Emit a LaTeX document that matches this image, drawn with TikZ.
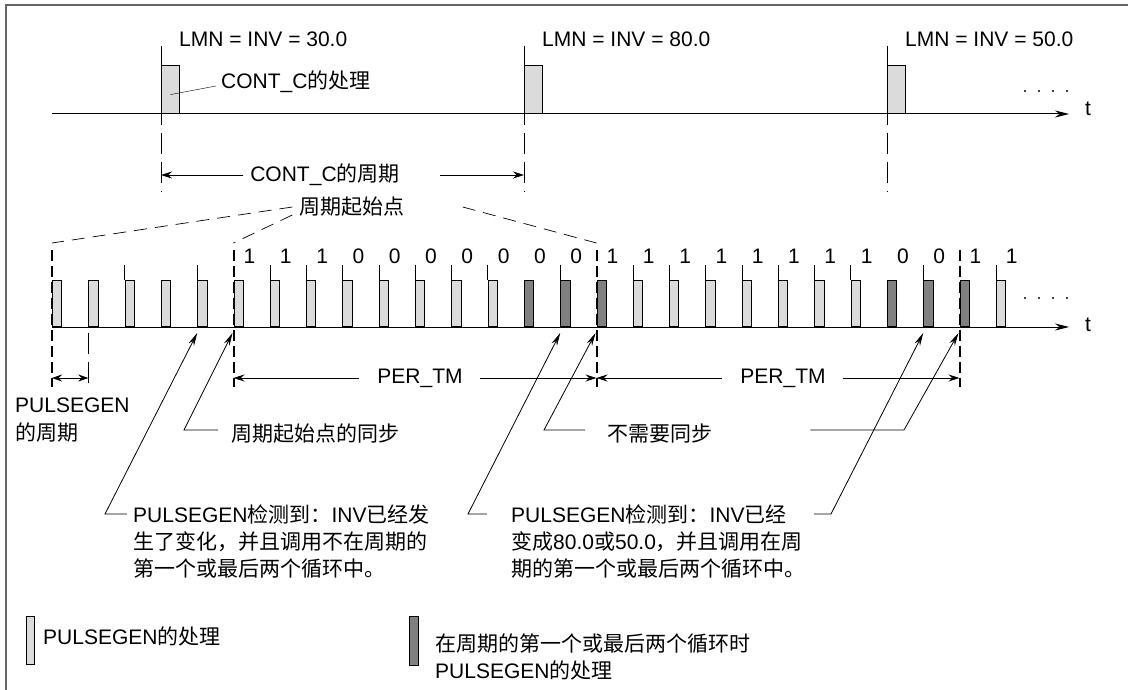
\documentclass[tikz,border=0pt]{standalone}
\usepackage{fontspec}
\setmainfont{Liberation Sans}
\newfontfamily\cjk{Noto Sans CJK SC}
\usepackage{tikz}
\usetikzlibrary{arrows.meta, positioning, calc}
\newcommand{\zh}[1]{{\cjk #1}}
\definecolor{lightpulse}{gray}{0.86}
\definecolor{darkpulse}{gray}{0.5}
\definecolor{framegray}{gray}{0.4}
\tikzset{
  pulsebox/.style={draw, line width=0.8pt, fill=lightpulse, inner sep=0pt,
    minimum width=9.3pt, minimum height=46pt, anchor=south west},
  darkbox/.style={pulsebox, fill=darkpulse},
  cbox/.style={pulsebox, minimum width=18pt, minimum height=48pt},
  timeaxis/.style={line width=1pt, -{Stealth[length=14pt, width=7pt]}},
  startline/.style={line width=2pt, dash pattern=on 11pt off 5pt},
  thindash/.style={line width=0.8pt, dash pattern=on 21pt off 8pt},
  guide/.style={line width=0.7pt, dash pattern=on 13pt off 8pt},
  dimline/.style={line width=0.8pt, -{Stealth[length=11pt, width=7pt]}},
  dimboth/.style={line width=0.8pt, {Stealth[length=10pt, width=7pt]}-{Stealth[length=10pt, width=7pt]}},
  leader/.style={line width=0.8pt, -{Stealth[length=13pt, width=6pt]}},
  txt/.style={inner sep=0pt, anchor=west},
  lbl/.style={inner sep=0pt},
}

\begin{document}
\begin{tikzpicture}[x=1pt, y=-1pt, font=\fontsize{21}{27}\selectfont]
  \useasboundingbox (0,0) rectangle (1128,690);
  % frame ------------------------------------------------------------
  \draw[framegray, line width=1.4pt] (6,690) -- (6,5) -- (1128,5);

  % ================================================================
  % CONT_C time line
  % ================================================================
  \draw[timeaxis] (52,114) -- (1069,114);
  \node[txt] (t1) at (1085,109) {t};
  \foreach \d in {0,...,3} \fill (1025+14*\d,91) circle (1.1);
  \foreach \i/\cx/\val in {1/161/30.0, 2/524/80.0, 3/887/50.0} {
    \node[cbox] (c\i) at (\cx,114) {};
    \node[txt] (lmn\i) at (\cx+18,39) {LMN = INV = \val};
    \draw (\cx,46) -- (\cx,125);
    \draw[thindash] (\cx,133) -- (\cx,192);
  }
  \node[txt] (cproc) at (221,82) {CONT\_C\zh{的处理}};
  \draw ($(c1.center)+(0,5)$) -- ($(cproc.west)+(-5,4)$);
  % CONT_C period ----------------------------------------------------
  \coordinate (cl) at (161,175);
  \coordinate (cr) at (524,175);
  \node[lbl] (cper) at (325,175) {CONT\_C\zh{的周期}};
  \draw[dimline] ($(cper.west)+(-7,0)$) -- (cl);
  \draw[dimline] ($(cper.east)+(40,0)$) -- (cr);

  % ================================================================
  % PULSEGEN time line
  % ================================================================
  \draw[timeaxis] (52,327) -- (1069,327);
  \node[txt] (t2) at (1085,325) {t};
  \foreach \d in {0,...,3} \fill (1025+14*\d,298) circle (1.1);
  % pulses -----------------------------------------------------------
  \foreach \k in {0,1,2,3,4,5,6,7,8,9,10,11,12,16,17,18,19,20,21,22,26}
    \node[pulsebox] (p\k) at ({52+36.3*\k},327) {};
  \foreach \k in {13,14,15,23,24,25}
    \node[darkbox] (p\k) at ({52+36.3*\k},327) {};
  \foreach \k in {2,4,6,7,8,9,10,11,12,14,16,17,18,19,20,21,22,24,26}
    \draw (p\k.north west) -- ++(0,-15);
  % bits -------------------------------------------------------------
  \foreach \k/\b in {5/1,6/1,7/1,8/0,9/0,10/0,11/0,12/0,13/0,14/0,
                     15/1,16/1,17/1,18/1,19/1,20/1,21/1,22/1,23/0,24/0,25/1,26/1}
    \node[lbl] (bit\k) at ($(p\k.north west)+(16,-24)$) {\b};
  % period starts ----------------------------------------------------
  \foreach \k in {0,5,15,25} {
    \draw[startline] ($(p\k.south west)+(0,-77)$) -- ($(p\k.south west)+(0,60)$);
    \coordinate (s\k) at ($(p\k.south west)+(0,-84)$);
  }
  \draw[thindash] ($(p1.south west)+(0,6)$) -- ($(p1.south west)+(0,62)$);
  \foreach \k in {0,1,5,15,25}
    \coordinate (b\k) at ($(p\k.south west)+(0,51)$);
  \node[lbl] (startpt) at (352,207) {\zh{周期起始点}};
  \draw[guide] ($(startpt.west)+(-7,0)$) -- (s0);
  \draw[guide] ($(startpt.west)+(-7,8)$) -- (s5);
  \draw[guide] ($(startpt.east)+(58,0)$) -- (s15);
  % dimensions -------------------------------------------------------
  \draw[dimboth] (b0) -- (b1);
  \node[txt, align=left] (pgper) at (15,420) {PULSEGEN\\[1pt]\zh{的周期}};
  \node[lbl] (per1) at ($(b5)!0.5!(b15)+(5,0)$) {PER\_TM};
  \draw[dimline] ($(per1.west)+(-18,0)$) -- (b5);
  \draw[dimline] ($(per1.east)+(17,0)$) -- (b15);
  \node[lbl] (per2) at ($(b15)!0.5!(b25)+(5,0)$) {PER\_TM};
  \draw[dimline] ($(per2.west)+(-18,0)$) -- (b15);
  \draw[dimline] ($(per2.east)+(17,0)$) -- (b25);
  % notes ------------------------------------------------------------
  \node[txt] (sync) at (231,434) {\zh{周期起始点的同步}};
  \coordinate (syncb) at (184,430);
  \draw[leader] ($(sync.west)+(-13,-4)$) -- (syncb) -- ($(p5.south west)+(-1,6)$);
  \node[txt] (nosync) at (607,434) {\zh{不需要同步}};
  \coordinate (nosyncl) at (544,430);
  \coordinate (nosyncr) at (904,430);
  \draw[leader] ($(nosync.west)+(-22,-4)$) -- (nosyncl) -- ($(p15.south west)+(-1,6)$);
  \draw[leader] ($(nosync.east)+(98,-4)$) -- (nosyncr) -- ($(p25.south west)+(-1,6)$);
  \node[txt, anchor=north west, align=left] (det1) at (133,505)
    {PULSEGEN\zh{检测到：}INV\zh{已经发}\\
     \zh{生了变化，并且调用不在周期的}\\
     \zh{第一个或最后两个循环中。}};
  \coordinate (det1b) at (105,514);
  \draw[leader] ($(det1.north west)+(-6,9)$) -- (det1b) -- ($(p4.south west)+(0,6)$);
  \node[txt, anchor=north west, align=left] (det2) at (511,505)
    {PULSEGEN\zh{检测到：}INV\zh{已经}\\
     \zh{变成}80.0\zh{或}50.0\zh{，并且调用在周}\\
     \zh{期的第一个或最后两个循环中。}};
  \coordinate (det2b) at (468,514);
  \coordinate (det2r) at (831,514);
  \draw[leader] ($(det2.north west)+(-24,9)$) -- (det2b) -- ($(p14.south west)+(0,6)$);
  \draw[leader] ($(det2r)+(-17,0)$) -- (det2r) -- ($(p24.south west)+(0,6)$);

  % ================================================================
  % legend
  % ================================================================
  \node[pulsebox, minimum width=8pt, minimum height=48pt] (leg1) at (26,665) {};
  \node[txt] (leg1t) at (43,636) {PULSEGEN\zh{的处理}};
  \node[darkbox, minimum width=9pt, minimum height=49pt] (leg2) at (409,666) {};
  \node[txt, align=left] (leg2t) at (435,657)
    {\zh{在周期的第一个或最后两个循环时}\\PULSEGEN\zh{的处理}};
\end{tikzpicture}
\end{document}
